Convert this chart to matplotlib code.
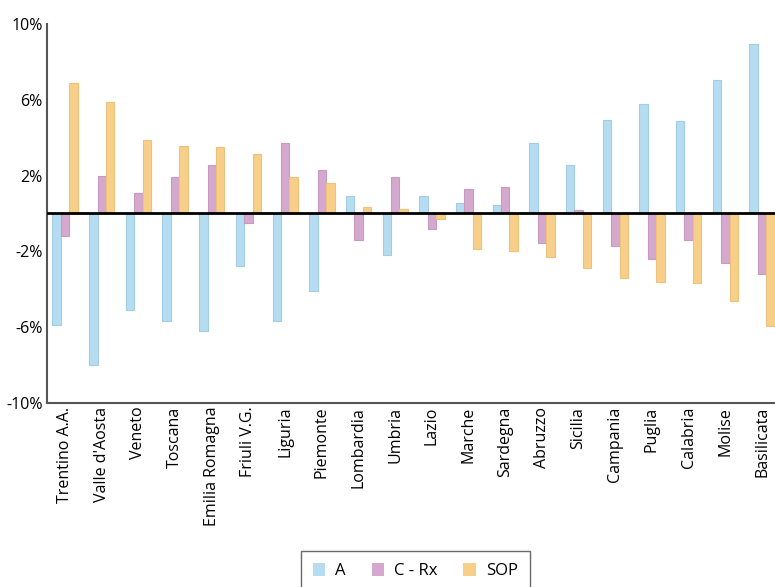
import numpy as np
import matplotlib
matplotlib.use("Agg")
import matplotlib.pyplot as plt
from matplotlib.patches import Patch

plt.rcParams["font.family"] = ["Open Sans", "DejaVu Sans"]

# data (percent)
regions = ["Trentino A.A.", "Valle d'Aosta", "Veneto", "Toscana", "Emilia Romagna",
           "Friuli V.G.", "Liguria", "Piemonte", "Lombardia", "Umbria", "Lazio",
           "Marche", "Sardegna", "Abruzzo", "Sicilia", "Campania", "Puglia",
           "Calabria", "Molise", "Basilicata"]
a_vals = [-5.9, -8.0, -5.1, -5.7, -6.2, -2.8, -5.7, -4.1, 0.9, -2.2, 0.9,
          0.55, 0.45, 3.7, 2.55, 4.95, 5.8, 4.9, 7.05, 8.95]
crx_vals = [-1.2, 2.0, 1.1, 1.9, 2.55, -0.5, 3.7, 2.3, -1.4, 1.9, -0.8,
            1.3, 1.4, -1.55, 0.18, -1.7, -2.4, -1.4, -2.6, -3.2]
sop_vals = [6.9, 5.9, 3.85, 3.55, 3.5, 3.15, 1.9, 1.6, 0.33, 0.23, -0.3,
            -1.9, -2.0, -2.3, -2.9, -3.4, -3.6, -3.7, -4.65, -5.95]
series = ["A", "C - Rx", "SOP"]

# colours
COL_A = "#b5dcf1"
COL_C = "#d4a9cd"
COL_S = "#f7cf89"
EDGE_A = "#a3cde4"
EDGE_C = "#c79bc0"
EDGE_S = "#ecc27c"

fig = plt.figure(figsize=(7.75, 5.87), dpi=100)
ax = fig.add_axes([0.0603, 0.314, 0.94, 0.645])

x = np.arange(len(regions))
w = 0.23
ax.bar(x - w, a_vals, w, color=COL_A, edgecolor=EDGE_A, linewidth=0.8, zorder=2)
ax.bar(x, crx_vals, w, color=COL_C, edgecolor=EDGE_C, linewidth=0.8, zorder=2)
ax.bar(x + w, sop_vals, w, color=COL_S, edgecolor=EDGE_S, linewidth=0.8, zorder=2)

ax.axhline(0, color="black", lw=2, zorder=3)

ax.set_xlim(-0.5, 19.36)
ax.set_ylim(-10, 10)
ax.set_yticks([-10, -6, -2, 2, 6, 10])
ax.set_yticklabels(["-10%", "-6%", "-2%", "2%", "6%", "10%"], fontsize=11.5)
ax.set_xticks(x)
ax.set_xticklabels(regions, rotation=90, fontsize=11.5)
ax.tick_params(length=0, pad=3)

for s in ["top", "right"]:
    ax.spines[s].set_visible(False)
for s in ["left", "bottom"]:
    ax.spines[s].set_color("#555555")
    ax.spines[s].set_linewidth(1.5)

handles = [Patch(facecolor=COL_A, edgecolor="none"),
           Patch(facecolor=COL_C, edgecolor="none"),
           Patch(facecolor=COL_S, edgecolor="none")]
leg = fig.legend(handles, series, loc="upper center", bbox_to_anchor=(0.536, 0.061),
                 ncol=3, frameon=True, fancybox=False, fontsize=12,
                 handlelength=0.75, handleheight=0.85, columnspacing=1.55,
                 handletextpad=0.6, borderpad=0.7, borderaxespad=0)
leg.get_frame().set_edgecolor("#444444")
leg.get_frame().set_linewidth(1.0)

fig.savefig("out.png", dpi=100)
